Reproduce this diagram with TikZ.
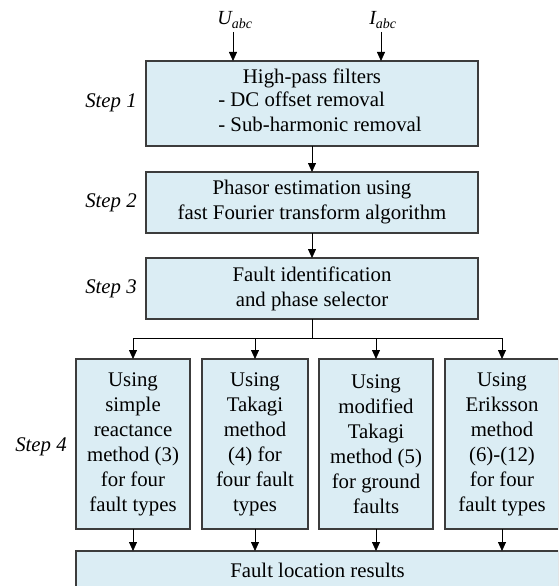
\documentclass[tikz,border=0pt]{standalone}
\usepackage{fontspec}
\setmainfont{Liberation Serif}
\usetikzlibrary{arrows.meta}
\definecolor{boxfill}{RGB}{219,237,244}
\definecolor{boxdraw}{RGB}{60,60,60}
\tikzset{
  base/.style={font=\fontsize{20.8}{25}\selectfont, inner sep=0pt, outer sep=0pt},
  blk/.style={base, draw=boxdraw, line width=1.1pt, fill=boxfill, align=center},
  steplabel/.style={base, font=\fontsize{20.8}{25}\selectfont\itshape},
  inlabel/.style={base, font=\fontsize{20}{24}\selectfont\itshape},
  arr/.style={line width=0.8pt, -{Triangle[length=9pt,width=8pt]}},
  ln/.style={line width=0.8pt}
}
\begin{document}
\begin{tikzpicture}[x=1pt,y=-1pt]
\useasboundingbox (0,0) rectangle (558,586);
\clip (0,0) rectangle (558,586);
% main chain
\node[blk, minimum width=332pt, minimum height=85pt] (b1) at (312,103.5)
  {High-pass filters\\ \begin{tabular}{@{\hspace{16pt}}l@{}}- DC offset removal\\- Sub-harmonic removal\end{tabular}};
\node[blk, minimum width=332pt, minimum height=61pt] (b2) at (312,202.5)
  {Phasor estimation using\\fast Fourier transform algorithm};
\node[blk, minimum width=332pt, minimum height=61pt] (b3) at (312,288.5)
  {Fault identification\\and phase selector};
% row of methods
\node[blk, minimum width=114pt, minimum height=170pt] (ra) at (133,444)
  {Using\\simple\\reactance\\method (3)\\for four\\fault types};
\node[blk, minimum width=106pt, minimum height=170pt] (rb) at (255,444)
  {Using\\Takagi\\method\\(4) for\\four fault\\types};
\node[blk, minimum width=114pt, minimum height=170pt] (rc) at (376,444)
  {Using\\modified\\Takagi\\method (5)\\for ground\\faults};
\node[blk, minimum width=114pt, minimum height=170pt] (rd) at (502,444)
  {Using\\Eriksson\\method\\(6)-(12)\\for four\\fault types};
\node[blk, minimum width=483pt, minimum height=39pt] (fin) at (317.5,570.5)
  {Fault location results};
% step labels
\node[steplabel] (s1) at (111,103) {Step 1};
\node[steplabel] (s2) at (111,203) {Step 2};
\node[steplabel] (s3) at (111,289) {Step 3};
\node[steplabel] (s4) at (41,447) {Step 4};
% inputs
\node[inlabel] (u) at (235,20) {U\textsubscript{abc}};
\node[inlabel] (i) at (383,20) {I\textsubscript{abc}};
\coordinate (uin) at (233,32);
\coordinate (iin) at (381,32);
\draw[arr] (uin) -- (uin |- b1.north);
\draw[arr] (iin) -- (iin |- b1.north);
% chain arrows
\draw[arr] (b1.south) -- (b2.north);
\draw[arr] (b2.south) -- (b3.north);
\coordinate (j) at (312,338);
\draw[ln] (b3.south) -- (j);
\draw[arr] (j) -| (ra.north);
\draw[arr] (j) -| (rb.north);
\draw[arr] (j) -| (rc.north);
\draw[arr] (j) -| (rd.north);
% to results
\draw[arr] (ra.south) -- (ra.south |- fin.north);
\draw[arr] (rb.south) -- (rb.south |- fin.north);
\draw[arr] (rc.south) -- (rc.south |- fin.north);
\draw[arr] (rd.south) -- (rd.south |- fin.north);
\end{tikzpicture}
\end{document}
